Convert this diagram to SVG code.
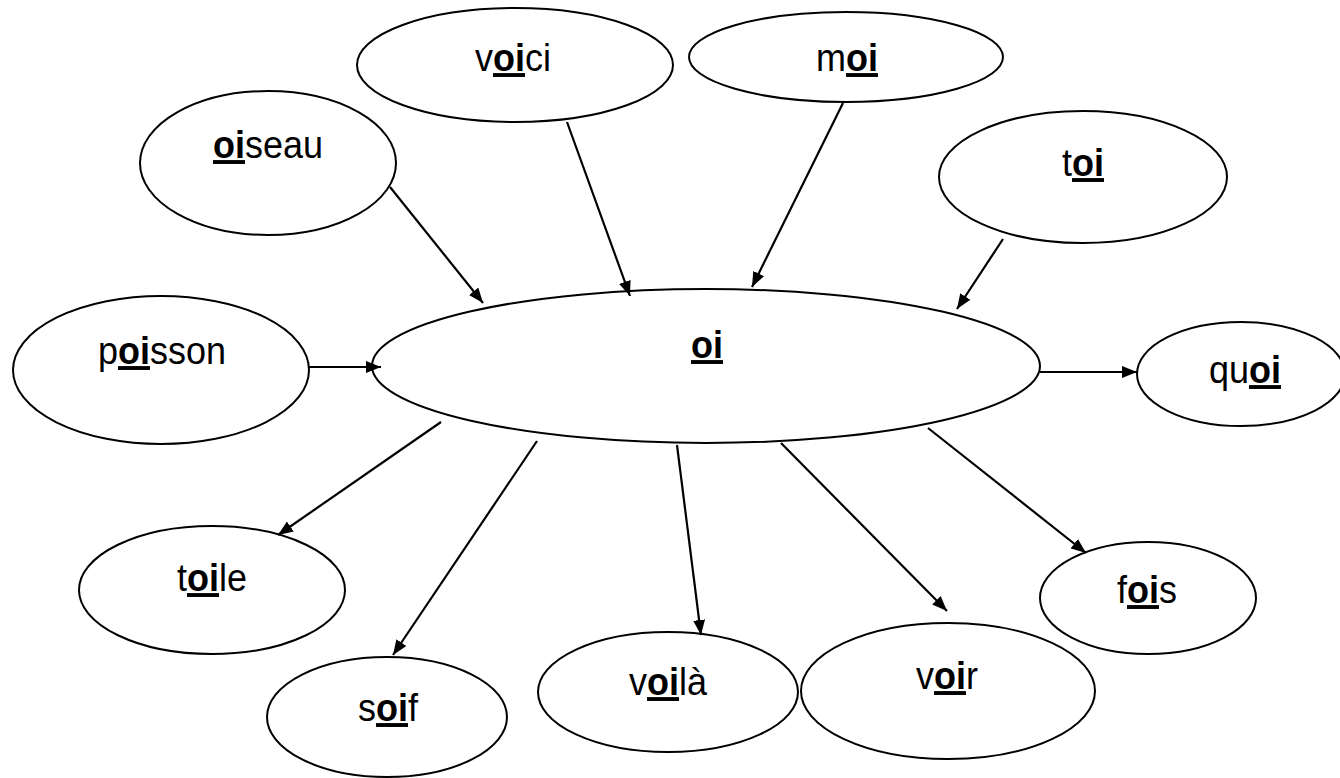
<svg xmlns="http://www.w3.org/2000/svg" width="1340" height="778" viewBox="0 0 1340 778">
<style>
.n{fill:#fff;stroke:#000;stroke-width:2}
.t{font-family:"Liberation Sans",Arial,sans-serif;font-size:36px;fill:#000;text-anchor:middle}
.b{font-weight:bold;text-decoration:underline}
.c line{stroke:#000;stroke-width:2.2;marker-end:url(#ah)}
</style>
<defs>
<marker id="ah" markerUnits="userSpaceOnUse" markerWidth="16" markerHeight="12" refX="15" refY="6" orient="auto">
<path d="M0,0 L15,6 L0,12 z" fill="#000"/>
</marker>
</defs>
<rect width="1340" height="778" fill="#fff"/>
<g id="n-oi"><ellipse class="n" cx="706" cy="366" rx="334" ry="77"/><text class="t" transform="translate(707,358) scale(1,1.08)"><tspan class="b">oi</tspan></text></g>
<g id="n-oiseau"><ellipse class="n" cx="268" cy="163" rx="128" ry="72"/><text class="t" transform="translate(268,158) scale(1,1.08)"><tspan class="b">oi</tspan>seau</text></g>
<g id="n-voici"><ellipse class="n" cx="515" cy="65" rx="158" ry="57"/><text class="t" transform="translate(513,71) scale(1,1.08)">v<tspan class="b">oi</tspan>ci</text></g>
<g id="n-moi"><ellipse class="n" cx="846" cy="57" rx="157" ry="45"/><text class="t" transform="translate(847,71) scale(1,1.08)">m<tspan class="b">oi</tspan></text></g>
<g id="n-toi"><ellipse class="n" cx="1083" cy="177" rx="144" ry="66"/><text class="t" transform="translate(1083,176) scale(1,1.08)">t<tspan class="b">oi</tspan></text></g>
<g id="n-poisson"><ellipse class="n" cx="161" cy="370" rx="148" ry="74"/><text class="t" transform="translate(162,364) scale(1,1.08)">p<tspan class="b">oi</tspan>sson</text></g>
<g id="n-quoi"><ellipse class="n" cx="1241" cy="374" rx="104" ry="52"/><text class="t" transform="translate(1245,383) scale(1,1.08)">qu<tspan class="b">oi</tspan></text></g>
<g id="n-toile"><ellipse class="n" cx="212" cy="590" rx="133" ry="64"/><text class="t" transform="translate(212,591) scale(1,1.08)">t<tspan class="b">oi</tspan>le</text></g>
<g id="n-soif"><ellipse class="n" cx="387" cy="717" rx="120" ry="60"/><text class="t" transform="translate(388,721) scale(1,1.08)">s<tspan class="b">oi</tspan>f</text></g>
<g id="n-voila"><ellipse class="n" cx="668" cy="692" rx="130" ry="60"/><text class="t" transform="translate(668,695) scale(1,1.08)">v<tspan class="b">oi</tspan>là</text></g>
<g id="n-voir"><ellipse class="n" cx="948" cy="691" rx="147" ry="68"/><text class="t" transform="translate(947,689) scale(1,1.08)">v<tspan class="b">oi</tspan>r</text></g>
<g id="n-fois"><ellipse class="n" cx="1148" cy="598" rx="108" ry="56"/><text class="t" transform="translate(1147,603) scale(1,1.08)">f<tspan class="b">oi</tspan>s</text></g>
<g id="connectors" class="c">
<line x1="390" y1="187" x2="483" y2="303"/>
<line x1="567" y1="122" x2="630" y2="296"/>
<line x1="843" y1="103" x2="752" y2="287"/>
<line x1="1003" y1="239" x2="957" y2="309"/>
<line x1="309" y1="367" x2="381" y2="367"/>
<line x1="1040" y1="372" x2="1137" y2="372"/>
<line x1="441" y1="422" x2="278" y2="535"/>
<line x1="537" y1="441" x2="393" y2="655"/>
<line x1="677" y1="445" x2="701" y2="635"/>
<line x1="781" y1="443" x2="947" y2="611"/>
<line x1="928" y1="428" x2="1086" y2="553"/>
</g>
</svg>
